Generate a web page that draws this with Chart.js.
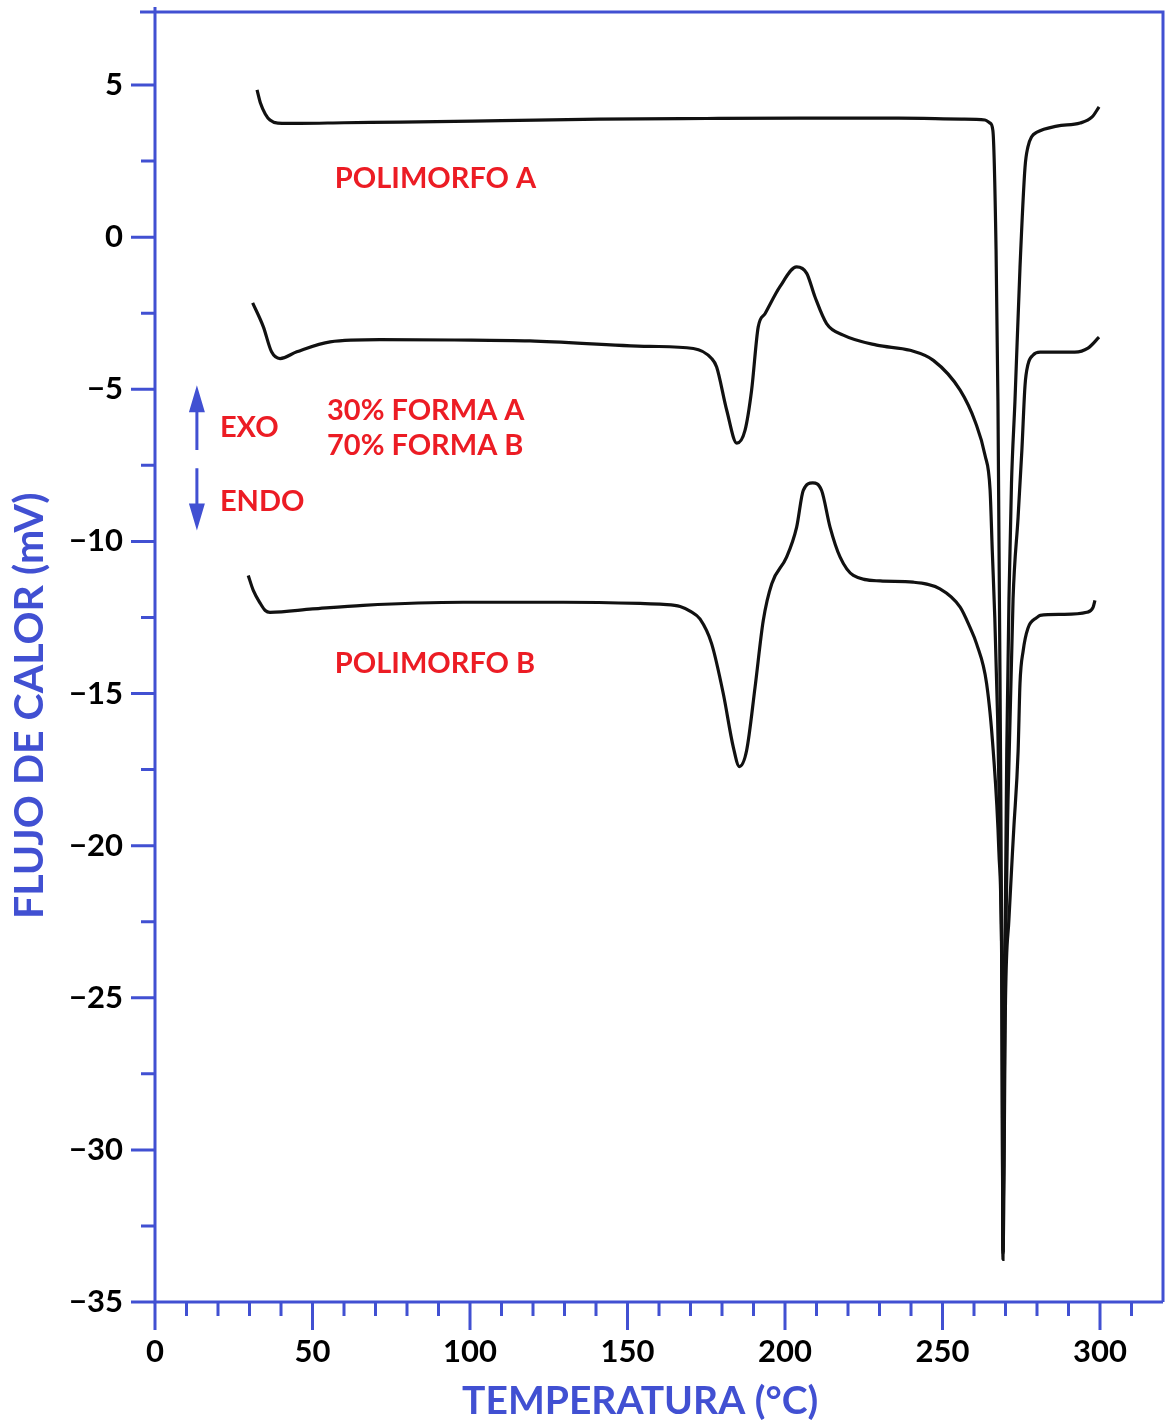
<!DOCTYPE html>
<html lang="es">
<head>
<meta charset="UTF-8">
<title>Flujo de calor - polimorfos A y B</title>
<script src="https://cdn.jsdelivr.net/npm/chart.js"></script>
<style>
  html, body { margin: 0; padding: 0; background: #fff; }
  #marco { width: 1166px; height: 1427px; position: relative; }
</style>
</head>
<body>
<div id="marco"><canvas id="dsc"></canvas></div>
<script>
// Polimorfo A
const tempA = [32.4, 33.5, 35.0, 36.5, 39.0, 46.0, 60, 78, 110, 141, 175, 205, 236, 256, 263.5, 265.1, 266.0, 267.0, 267.6, 268.3, 268.9, 269.2,
               269.7, 270.4, 271.1, 271.9, 273.0, 274.6, 276.2, 277.1, 278.3, 280.0, 286.3, 293.7, 297.5, 299.7];
const flujoA = [4.84, 4.40, 4.05, 3.85, 3.75, 3.74, 3.76, 3.78, 3.83, 3.88, 3.90, 3.91, 3.91, 3.88, 3.85, 3.75, 3.5, -0.4, -5.4, -15.2, -25.1, -33.6,
                -25.1, -16.9, -11.9, -8.1, -5.4, -1.0, 2.3, 2.96, 3.3, 3.45, 3.65, 3.75, 3.95, 4.28];

// 30% forma A / 70% forma B
const tempM = [31.0, 34.4, 37.0, 39.7, 45.0, 55.6, 71.4, 95, 119, 157, 170.9, 176.7, 178.3, 181.5, 184.7, 187.3, 189.4, 191.5, 193.7, 198.4,
               203.7, 206.9, 209.5, 213.2, 218.5, 229.1, 239.7, 247.1, 255.6, 260.5, 263.5, 265.1, 265.8, 266.6, 267.5, 268.3, 268.9, 269.2,
               269.8, 270.8, 272.4, 274.0, 275.2, 276.2, 277.1, 278.7, 281.0, 292.0, 296.2, 299.7];
const flujoM = [-2.16, -2.95, -3.77, -3.99, -3.77, -3.44, -3.37, -3.38, -3.41, -3.59, -3.66, -3.99, -4.27, -5.69, -6.77, -6.35, -5.03, -2.95, -2.51, -1.63,
                -0.98, -1.19, -1.96, -2.84, -3.22, -3.55, -3.72, -4.05, -5.03, -6.1, -7.17, -8.3, -10.3, -12.5, -15.8, -20.2, -25.1, -33.3,
                -25.1, -18.5, -11.9, -9.2, -7.0, -4.87, -4.2, -3.88, -3.78, -3.78, -3.65, -3.29];

// Polimorfo B
const tempB = [29.6, 31.2, 33.5, 35.0, 36.5, 50, 66.1, 97.9, 129.6, 154, 161.4, 166.7, 170, 173, 176.7, 180.4, 183.6, 185.5, 187.8, 190.5,
               193.1, 195.8, 200.5, 203.7, 205.8, 208.8, 211.6, 214.3, 217.5, 221.7, 230.2, 240.7, 249.2, 255.6, 258.7, 260.8, 264.0, 266.1,
               267.9, 268.9, 269.2, 270.0, 271.1, 272.6, 274.0, 274.6, 275.6, 277.1, 280.0, 281.0, 288, 295.8, 297.8, 298.4];
const flujoB = [-11.12, -11.61, -12.05, -12.27, -12.33, -12.22, -12.1, -12.0, -12.0, -12.04, -12.07, -12.14, -12.3, -12.55, -13.36, -15.0, -16.77, -17.4, -16.88, -14.79,
                -12.6, -11.39, -10.52, -9.53, -8.32, -8.08, -8.32, -9.53, -10.52, -11.12, -11.3, -11.34, -11.56, -12.16, -12.82, -13.36, -14.67, -16.88,
                -20.2, -25.1, -33.4, -25.1, -22.4, -19.5, -16.9, -14.67, -13.6, -12.86, -12.5, -12.43, -12.4, -12.33, -12.17, -11.94];

// marcas de los ejes
const xEtiquetas = [0, 50, 100, 150, 200, 250, 300];
const xMenores = [10, 20, 30, 40, 60, 70, 80, 90, 110, 120, 130, 140, 160, 170, 180, 190, 210, 220, 230, 240, 260, 270, 280, 290, 310];
const yEtiquetas = [5, 0, -5, -10, -15, -20, -25, -30, -35];
const yMenores = [2.5, -2.5, -7.5, -12.5, -17.5, -22.5, -27.5, -32.5];

// rótulos en rojo
const notasTexto = ['POLIMORFO A', '30% FORMA A', '70% FORMA B', 'EXO', 'ENDO', 'POLIMORFO B'];
const notasT = [57.1, 54.6, 54.6, 20.6, 20.6, 57.1];
const notasV = [1.61, -6.02, -7.17, -6.58, -9.01, -14.31];

const AZUL = '#4150d2';
const ROJO = '#ec1c24';
const NEGRO = '#111111';

function serie(t, v) {
  return t.map((x, i) => ({ x: x, y: v[i] }));
}

function etiquetaNum(v) {
  return v < 0 ? '\u2212' + Math.abs(v) : String(v);
}

const ejes = {
  id: 'ejes',
  afterDraw(chart) {
    const { ctx, chartArea: a, scales: { x, y } } = chart;
    ctx.save();
    ctx.strokeStyle = AZUL;
    ctx.lineWidth = 3;
    ctx.lineCap = 'butt';
    // marco
    ctx.beginPath();
    ctx.moveTo(a.left - 15, a.top);
    ctx.lineTo(a.right, a.top);
    ctx.lineTo(a.right, a.bottom);
    ctx.moveTo(a.left, a.top - 5);
    ctx.lineTo(a.left, a.bottom);
    ctx.lineTo(a.right, a.bottom);
    ctx.stroke();
    // marcas
    ctx.beginPath();
    xEtiquetas.forEach(v => { const p = x.getPixelForValue(v); ctx.moveTo(p, a.bottom); ctx.lineTo(p, a.bottom + 28); });
    xMenores.forEach(v => { const p = x.getPixelForValue(v); ctx.moveTo(p, a.bottom); ctx.lineTo(p, a.bottom + 14); });
    yEtiquetas.forEach(v => { const p = y.getPixelForValue(v); ctx.moveTo(a.left, p); ctx.lineTo(a.left - 24, p); });
    yMenores.forEach(v => { const p = y.getPixelForValue(v); ctx.moveTo(a.left, p); ctx.lineTo(a.left - 14, p); });
    ctx.stroke();

    // títulos de los ejes
    ctx.fillStyle = AZUL;
    ctx.textAlign = 'center';
    ctx.textBaseline = 'middle';
    ctx.font = 'bold 39px Lato';
    ctx.fillText('TEMPERATURA (\u00b0C)', x.getPixelForValue(154), a.bottom + 99);
    ctx.save();
    ctx.translate(30, y.getPixelForValue(-15.4));
    ctx.rotate(-Math.PI / 2);
    ctx.font = 'bold 41px Lato';
    ctx.fillText('FLUJO DE CALOR (mV)', 0, 0);
    ctx.restore();

    // flechas EXO / ENDO
    const fx = x.getPixelForValue(13.3);
    const arriba = y.getPixelForValue(-4.87), baseArriba = y.getPixelForValue(-7.0);
    const abajoIni = y.getPixelForValue(-7.6), abajo = y.getPixelForValue(-9.64);
    ctx.lineWidth = 3;
    ctx.beginPath();
    ctx.moveTo(fx, baseArriba); ctx.lineTo(fx, arriba + 20);
    ctx.moveTo(fx, abajoIni); ctx.lineTo(fx, abajo - 20);
    ctx.stroke();
    ctx.beginPath();
    ctx.moveTo(fx, arriba); ctx.lineTo(fx - 8, arriba + 27); ctx.lineTo(fx + 8, arriba + 27); ctx.closePath();
    ctx.moveTo(fx, abajo); ctx.lineTo(fx - 8, abajo - 27); ctx.lineTo(fx + 8, abajo - 27); ctx.closePath();
    ctx.fill();

    // rótulos
    ctx.fillStyle = ROJO;
    ctx.font = 'bold 29px Lato';
    ctx.textAlign = 'left';
    ctx.textBaseline = 'alphabetic';
    notasTexto.forEach((txt, i) => {
      ctx.fillText(txt, x.getPixelForValue(notasT[i]), y.getPixelForValue(notasV[i]));
    });
    ctx.restore();
  }
};

const linea = { borderColor: NEGRO, borderWidth: 3.2, pointRadius: 0, fill: false, cubicInterpolationMode: 'monotone' };

new Chart(document.getElementById('dsc'), {
  type: 'line',
  data: {
    datasets: [
      Object.assign({ label: 'Polimorfo A', data: serie(tempA, flujoA) }, linea),
      Object.assign({ label: '30% forma A / 70% forma B', data: serie(tempM, flujoM) }, linea),
      Object.assign({ label: 'Polimorfo B', data: serie(tempB, flujoB) }, linea)
    ]
  },
  options: {
    responsive: true,
    maintainAspectRatio: false,
    animation: false,
    devicePixelRatio: 1,
    layout: { padding: { top: 12, right: 3, left: 0, bottom: 0 } },
    plugins: { legend: { display: false }, tooltip: { enabled: false } },
    scales: {
      x: {
        type: 'linear',
        min: 0,
        max: 320,
        grid: { display: false },
        border: { display: false },
        afterBuildTicks: s => { s.ticks = xEtiquetas.map(v => ({ value: v })); },
        afterFit: s => { s.height = 125; s.paddingLeft = 0; s.paddingRight = 0; },
        ticks: { color: '#000', font: { family: 'Lato', size: 31, weight: 'bold' }, padding: 23, maxRotation: 0, callback: v => etiquetaNum(v) }
      },
      y: {
        type: 'linear',
        min: -35,
        max: 7.4,
        grid: { display: false },
        border: { display: false },
        afterBuildTicks: s => { s.ticks = yEtiquetas.map(v => ({ value: v })); },
        afterFit: s => { s.width = 155; s.paddingTop = 0; s.paddingBottom = 0; },
        ticks: { color: '#000', font: { family: 'Lato', size: 31, weight: 'bold' }, padding: 24, callback: v => etiquetaNum(v) }
      }
    }
  },
  plugins: [ejes]
});
</script>
</body>
</html>
